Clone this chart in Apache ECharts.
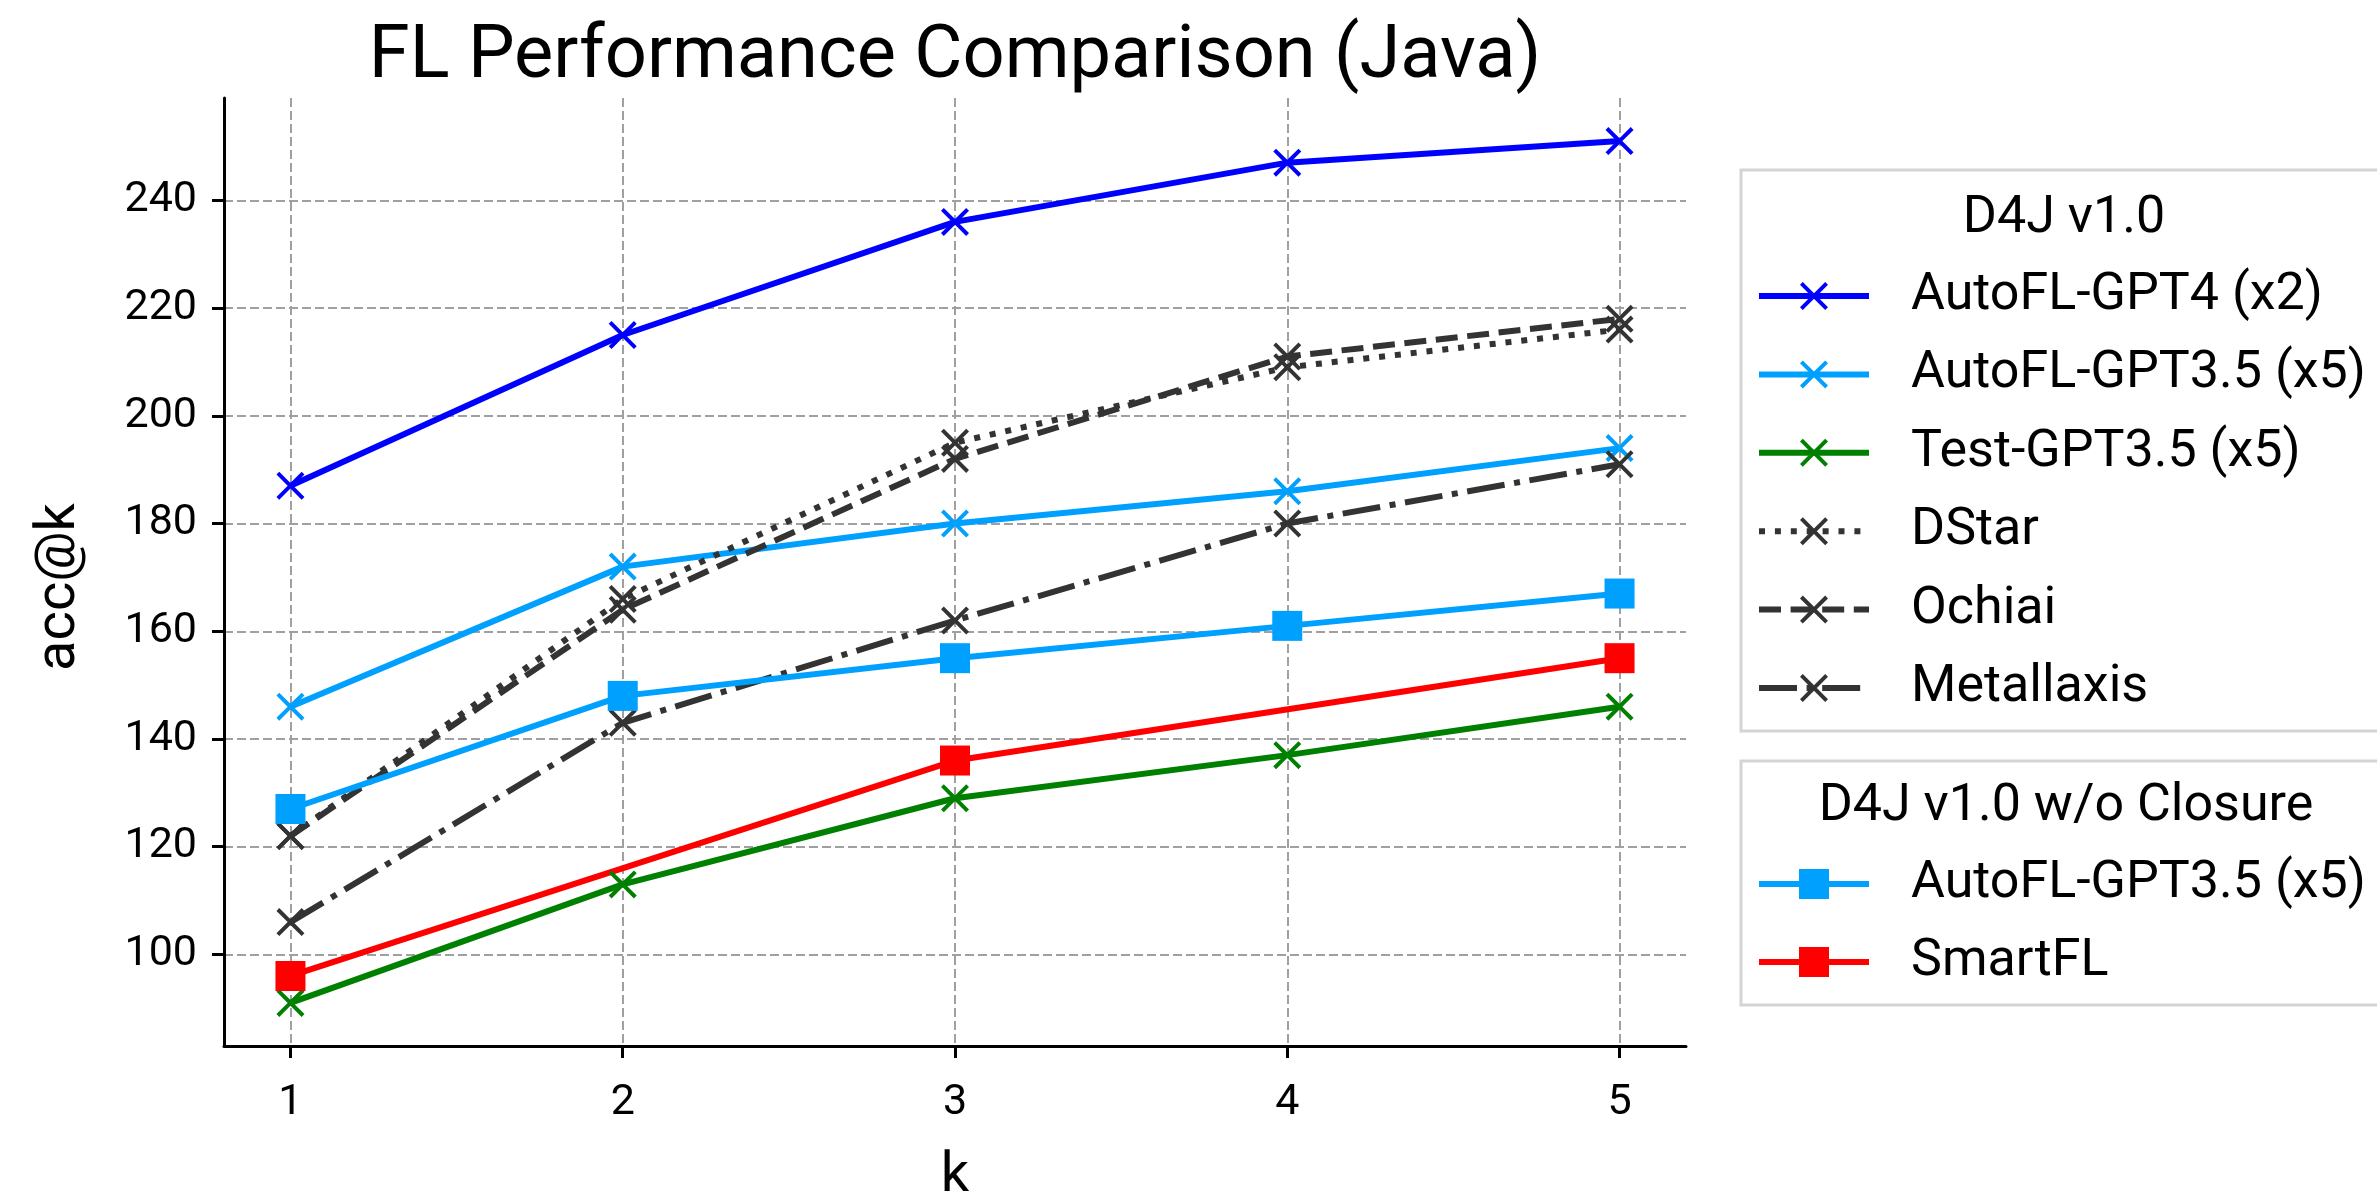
<!DOCTYPE html>
<html><head><meta charset="utf-8">
<script src="https://cdn.jsdelivr.net/npm/echarts@6/dist/echarts.min.js"></script>
<style>html,body{margin:0;padding:0;background:#fff}#c{width:2377px;height:1198px}</style>
</head><body><div id="c"></div>
<script>
// ---- data ----
const kValues = [1, 2, 3, 4, 5];
const yTicks = [100, 120, 140, 160, 180, 200, 220, 240];
const gpt4 = [187, 215, 236, 247, 251];
const gpt35 = [146, 172, 180, 186, 194];
const testGpt35 = [91, 113, 129, 137, 146];
const dstar = [122, 166, 195, 209, 216];
const ochiai = [122, 164, 192, 211, 218];
const metallaxis = [106, 143, 162, 180, 191];
const gpt35NoClosure = [127, 148, 155, 161, 167];
const smartflK = [1, 3, 5];
const smartfl = [96, 136, 155];

const legend1Names = ['AutoFL-GPT4 (x2)', 'AutoFL-GPT3.5 (x5)', 'Test-GPT3.5 (x5)', 'DStar', 'Ochiai', 'Metallaxis'];
const legend2Names = ['AutoFL-GPT3.5 (x5)\u00a0', 'SmartFL'];

const FONT = 'Roboto';
const X_SYMBOL = 'path://M0,10L10,0L50,40L90,0L100,10L60,50L100,90L90,100L50,60L10,100L0,90L40,50Z';
const LW = 6;

function pairs(xs, ys) { return xs.map((x, i) => [x, ys[i]]); }
function mk(name, xs, ys, color, dash, symbol, size) {
  return {
    name: name, type: 'line', data: pairs(xs, ys),
    symbol: symbol, symbolSize: size, showSymbol: true, showAllSymbol: true,
    lineStyle: { color: color, width: LW, type: dash, cap: 'butt' },
    itemStyle: { color: color, borderWidth: 0 },
    emphasis: { disabled: true },
    animation: false
  };
}

const chart = echarts.init(document.getElementById('c'), null, { renderer: 'canvas' });
const axisCommon = {
  axisLine: { show: true, lineStyle: { color: '#000', width: 3 } },
  axisTick: { show: true, inside: false, length: 12, lineStyle: { color: '#000', width: 3 } },
  splitLine: { show: true, lineStyle: { color: '#a0a0a0', width: 2, type: [9, 4] } }
};
const legendCommon = {
  orient: 'vertical', left: 1756, itemWidth: 110, selectedMode: false, padding: 0,
  lineStyle: { width: LW, type: 'inherit', color: 'inherit' },
  textStyle: { fontFamily: FONT, fontSize: 52, color: '#000', padding: [0, 0, 0, 37] }
};

chart.setOption({
  backgroundColor: '#fff',
  animation: false,
  title: [
    { text: 'FL Performance Comparison (Java)', left: 955, top: 21, textAlign: 'center', padding: 0,
      textStyle: { fontFamily: FONT, fontSize: 74, fontWeight: 'normal', color: '#000' } },
    { text: 'D4J v1.0', left: 2064, top: 193, textAlign: 'center', padding: 0,
      textStyle: { fontFamily: FONT, fontSize: 52, fontWeight: 'normal', color: '#000' } },
    { text: 'D4J v1.0 w/o Closure', left: 2066, top: 781, textAlign: 'center', padding: 0,
      textStyle: { fontFamily: FONT, fontSize: 52, fontWeight: 'normal', color: '#000' } }
  ],
  grid: { left: 224, right: 691, top: 98, bottom: 152, containLabel: false, outerBoundsMode: 'none' },
  xAxis: Object.assign({
    type: 'value', min: 0.8, max: 5.2,
    name: 'k', nameLocation: 'middle', nameGap: 103,
    nameTextStyle: { fontFamily: FONT, fontSize: 56, color: '#000' },
    axisLabel: { customValues: kValues, fontFamily: FONT, fontSize: 43, color: '#000', margin: 36 }
  }, axisCommon, {
    axisTick: Object.assign({}, axisCommon.axisTick, { customValues: kValues })
  }),
  yAxis: Object.assign({
    type: 'value', min: 83, max: 259,
    name: 'acc@k', nameLocation: 'middle', nameGap: 136,
    nameTextStyle: { fontFamily: FONT, fontSize: 56, color: '#000', padding: [0, 30, 0, 0] },
    axisLabel: { customValues: yTicks, fontFamily: FONT, fontSize: 43, color: '#000', margin: 27 }
  }, axisCommon, {
    axisTick: Object.assign({}, axisCommon.axisTick, { customValues: yTicks })
  }),
  legend: [
    Object.assign({ top: 270, itemHeight: 35, itemGap: 26.4, data: legend1Names }, legendCommon),
    Object.assign({ top: 858, itemHeight: 37.5, itemGap: 26, data: legend2Names }, legendCommon)
  ],
  graphic: [
    { type: 'rect', shape: { x: 1741, y: 170, width: 680, height: 561 },
      style: { fill: 'none', stroke: '#d4d4d4', lineWidth: 3 }, silent: true },
    { type: 'rect', shape: { x: 1741, y: 761, width: 680, height: 244 },
      style: { fill: 'none', stroke: '#d4d4d4', lineWidth: 3 }, silent: true }
  ],
  series: [
    mk(legend1Names[0], kValues, gpt4, '#0000ff', 'solid', X_SYMBOL, 28),
    mk(legend1Names[1], kValues, gpt35, '#00a0ff', 'solid', X_SYMBOL, 28),
    mk(legend1Names[2], kValues, testGpt35, '#008000', 'solid', X_SYMBOL, 28),
    mk(legend1Names[3], kValues, dstar, '#333333', [6, 9.9], X_SYMBOL, 28),
    mk(legend1Names[4], kValues, ochiai, '#333333', [22, 9.6], X_SYMBOL, 28),
    mk(legend1Names[5], kValues, metallaxis, '#333333', [38, 9.6, 6, 9.6], X_SYMBOL, 28),
    mk(legend2Names[0], kValues, gpt35NoClosure, '#00a0ff', 'solid', 'rect', 30),
    mk(legend2Names[1], smartflK, smartfl, '#ff0000', 'solid', 'rect', 30)
  ]
});
</script>
</body></html>
